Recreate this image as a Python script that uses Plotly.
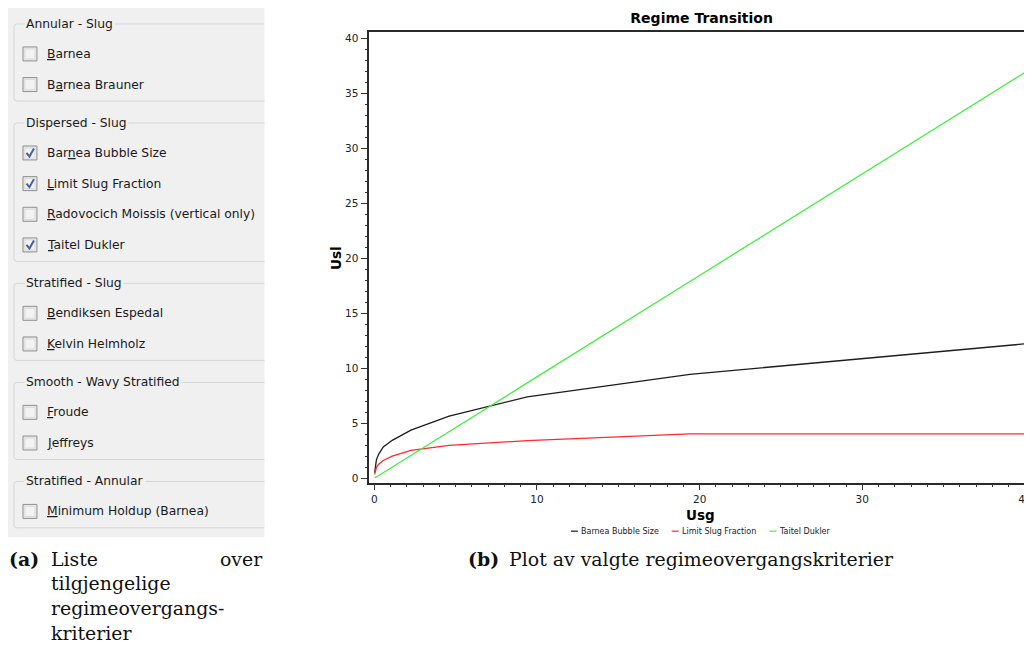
import plotly.graph_objects as go

# the page body adds an 8px margin, so the figure is 8px smaller on each axis
OFF = 8
W, H = 1032 - OFF, 645 - OFF

# ---------------- data ----------------
usg = [0.02, 0.065, 0.13, 0.27, 0.55, 1.1, 2.25, 4.6, 9.4, 19.4, 40.0]
usl_barnea_bubble = [0.52, 1.25, 1.7, 2.2, 2.85, 3.45, 4.38, 5.65, 7.4, 9.45, 12.22]
usl_limit_slug = [0.36, 0.75, 1.0, 1.28, 1.62, 2.02, 2.54, 2.99, 3.42, 4.04, 4.04]
usl_taitel_dukler = [0.05, 0.06, 0.12, 0.25, 0.51, 1.01, 2.07, 4.24, 8.67, 17.89, 36.9]

series_names = ["Barnea Bubble Size", "Limit Slug Fraction", "Taitel Dukler"]
series_colors = ["#1c1c1c", "#ff2b2b", "#3ef03e"]

x_ticks = [0, 10, 20, 30, 40]
y_ticks = [0, 5, 10, 15, 20, 25, 30, 35, 40]

group_titles = ["Annular - Slug", "Dispersed - Slug", "Stratified - Slug",
                "Smooth - Wavy Stratified", "Stratified - Annular"]
group_items = [
    ["Barnea", "Barnea Brauner"],
    ["Barnea Bubble Size", "Limit Slug Fraction", "Radovocich Moissis (vertical only)", "Taitel Dukler"],
    ["Bendiksen Espedal", "Kelvin Helmholz"],
    ["Froude", "Jeffreys"],
    ["Minimum Holdup (Barnea)"],
]
group_checked = [
    [False, False],
    [True, True, False, True],
    [False, False],
    [False, False],
    [False],
]
group_underline = [[0, 1], [3, 0, 0, 0], [0, 0], [0, 0], [0]]

caption_a = ["Liste", "over", "tilgjengelige", "regimeovergangs-", "kriterier"]
caption_b = "Plot av valgte regimeovergangskriterier"


def X(px):
    return (px - OFF) / W


def Y(py):
    return 1 - (py - OFF) / H


fig = go.Figure()
all_y = [usl_barnea_bubble, usl_limit_slug, usl_taitel_dukler]
for name, col, yy in zip(series_names, series_colors, all_y):
    fig.add_trace(go.Scatter(x=usg, y=yy, mode="lines", name=name,
                             line=dict(color=col, width=1.3), showlegend=False))

shapes = []
ann = []

# ---------------- left panel (GUI list) ----------------
shapes.append(dict(type="rect", xref="paper", yref="paper", x0=X(8), x1=X(265),
                   y0=Y(538), y1=Y(8), fillcolor="#f0f0f0", line=dict(width=0), layer="below"))

hy = 24.0
for gi, title in enumerate(group_titles):
    items = group_items[gi]
    item_ys = [hy + 30 + 30.7 * k for k in range(len(items))]
    bottom = item_ys[-1] + 16.5
    l, r, right = 14, 3, 265
    path = (f"M {X(right)} {Y(hy)} L {X(l + r)} {Y(hy)} Q {X(l)} {Y(hy)} {X(l)} {Y(hy + r)} "
            f"L {X(l)} {Y(bottom - r)} Q {X(l)} {Y(bottom)} {X(l + r)} {Y(bottom)} L {X(right)} {Y(bottom)}")
    shapes.append(dict(type="path", xref="paper", yref="paper", path=path,
                       line=dict(color="#d3d6d9", width=1)))
    ann.append(dict(x=X(24), y=Y(hy), xref="paper", yref="paper", xanchor="left", yanchor="middle",
                    text=title, showarrow=False, bgcolor="#f0f0f0", borderpad=1,
                    font=dict(family="DejaVu Sans", size=12.3, color="#1a1a1a")))
    for k, (label, yi) in enumerate(zip(items, item_ys)):
        shapes.append(dict(type="rect", xref="paper", yref="paper", x0=X(23), x1=X(37),
                           y0=Y(yi + 7), y1=Y(yi - 7), fillcolor="#e9e9e9",
                           line=dict(color="#8e8f8f", width=1)))
        shapes.append(dict(type="rect", xref="paper", yref="paper", x0=X(25), x1=X(35),
                           y0=Y(yi + 5), y1=Y(yi - 5), fillcolor="#f3f3f3",
                           line=dict(color="#dcdcdc", width=1)))
        if group_checked[gi][k]:
            p = f"M {X(26.5)} {Y(yi)} L {X(29.5)} {Y(yi + 3.5)} L {X(34)} {Y(yi - 4.5)}"
            shapes.append(dict(type="path", xref="paper", yref="paper", path=p,
                               line=dict(color="#4b5c9c", width=2)))
        u = group_underline[gi][k]
        txt = label[:u] + "<u>" + label[u] + "</u>" + label[u + 1:]
        ann.append(dict(x=X(45), y=Y(yi), xref="paper", yref="paper", xanchor="left", yanchor="middle",
                        text=txt, showarrow=False,
                        font=dict(family="DejaVu Sans", size=12.3, color="#1a1a1a")))
    hy = bottom + 22

# ---------------- chart texts ----------------
ann.append(dict(x=X(702), y=Y(516), xref="paper", yref="paper", xanchor="center", yanchor="middle",
                text="<b>Usg</b>", showarrow=False,
                font=dict(family="DejaVu Sans", size=13.5, color="#000")))
ann.append(dict(x=X(336), y=Y(258), xref="paper", yref="paper", xanchor="center", yanchor="middle",
                text="<b>Usl</b>", textangle=-90, showarrow=False,
                font=dict(family="DejaVu Sans", size=13.5, color="#000")))

leg_x = [572, 673, 771]
for name, col, lx in zip(series_names, series_colors, leg_x):
    shapes.append(dict(type="line", xref="paper", yref="paper", x0=X(lx), x1=X(lx + 7),
                       y0=Y(532), y1=Y(532), line=dict(color=col, width=1.2)))
    ann.append(dict(x=X(lx + 8), y=Y(532), xref="paper", yref="paper", xanchor="left", yanchor="middle",
                    text=name, showarrow=False,
                    font=dict(family="DejaVu Sans", size=8, color="#1a1a1a")))

# ---------------- captions ----------------
cap_font = dict(family="DejaVu Serif", size=18.9, color="#111")
ann.append(dict(x=X(7), y=Y(560), xref="paper", yref="paper", xanchor="left", yanchor="middle",
                text="<b>(a)</b>", showarrow=False, font=cap_font))
ann.append(dict(x=X(49), y=Y(560), xref="paper", yref="paper", xanchor="left", yanchor="middle",
                text=caption_a[0], showarrow=False, font=cap_font))
ann.append(dict(x=X(266), y=Y(560), xref="paper", yref="paper", xanchor="right", yanchor="middle",
                text=caption_a[1], showarrow=False, font=cap_font))
for k, t in enumerate(caption_a[2:]):
    ann.append(dict(x=X(49), y=Y(584 + 25 * k), xref="paper", yref="paper", xanchor="left",
                    yanchor="middle", text=t, showarrow=False, font=cap_font))
ann.append(dict(x=X(467), y=Y(560), xref="paper", yref="paper", xanchor="left", yanchor="middle",
                text="<b>(b)</b>", showarrow=False, font=cap_font))
ann.append(dict(x=X(508), y=Y(560), xref="paper", yref="paper", xanchor="left", yanchor="middle",
                text=caption_b, showarrow=False, font=cap_font))

axis_common = dict(showgrid=False, zeroline=False, showline=True, linecolor="#2a2a2a", linewidth=1.5,
                   ticks="outside", tickcolor="#333", tickwidth=1, ticklabeloverflow="allow",
                   tickfont=dict(family="DejaVu Sans", size=10.5, color="#222"))

fig.update_layout(
    width=W, height=H,
    margin=dict(l=0, r=0, t=0, b=0),
    paper_bgcolor="white", plot_bgcolor="white",
    title=dict(text="<b>Regime Transition</b>", x=X(703), xanchor="center", xref="paper",
               y=Y(18), yanchor="middle", yref="container",
               font=dict(family="DejaVu Sans", size=14, color="#000")),
    xaxis=dict(domain=[X(370), 1.0], range=[-0.31, 40.31], tickvals=x_ticks, ticklen=6,
               mirror=True,
               minor=dict(ticks="outside", dtick=1, tick0=0, ticklen=3, tickcolor="#333"),
               **axis_common),
    yaxis=dict(domain=[Y(483.3), Y(32.3)], range=[-0.39, 40.55], tickvals=y_ticks, ticklen=7,
               minor=dict(ticks="outside", dtick=1, tick0=0, ticklen=3, tickcolor="#333"),
               **axis_common),
    shapes=shapes,
    annotations=ann,
)

fig.write_html("out.html")
